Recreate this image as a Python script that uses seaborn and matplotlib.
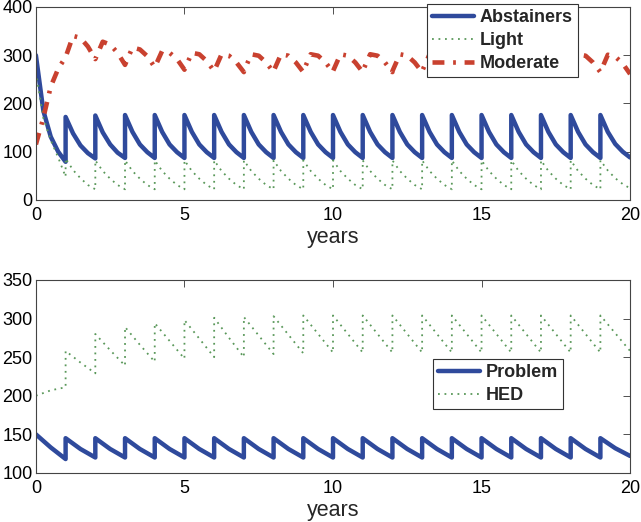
import numpy as np
import pandas as pd
import matplotlib
matplotlib.use("Agg")
import matplotlib.pyplot as plt
import seaborn as sns

# ── Data (one list per yearly cycle) ────────────────────────────────────────
YEARS = 20

# top panel: samples at k, k+.25, k+.5, k+.75, k+1 inside each year k
FRAC5 = [0.0, 0.25, 0.5, 0.75, 1.0]
abstainers = [
    [300, 185, 131, 100, 79],
    [172, 138, 113, 97, 86],
    [175, 140, 115, 98, 87],
] + [[176, 141, 115, 99, 87]] * 16 + [[176, 141, 116, 100, 88]]

light = [
    [265, 170, 124, 88, 48],
    [86, 62, 45, 31, 22],
] + [[82, 60, 44, 31, 22]] * 17 + [[82, 61, 45, 33, 24]]

moderate = [
    [115, 170, 235, 272, 296],
    [296, 340, 336, 318, 292],
    [292, 328, 322, 305, 280],
    [280, 316, 312, 298, 275],
    [275, 309, 305, 292, 270],
    [270, 305, 302, 288, 267],
] + [[267, 302, 299, 285, 265]] * 13 + [[265, 301, 297, 283, 261]]

# bottom panel: samples at k, k+.5, k+1
FRAC3 = [0.0, 0.5, 1.0]
problem = [[150, 133, 118]] + [[145, 131, 120]] * 18 + [[145, 132, 122]]

hed = [
    [200, 207, 211],
    [258, 243, 229],
    [280, 259, 239],
    [289, 266, 244],
    [294, 271, 248],
    [298, 274, 250],
    [301, 275, 250],
    [302, 278, 254],
    [303, 279, 255],
] + [[304, 280, 256]] * 10 + [[304, 281, 258]]

BLUE = "#2f4a9c"
GREEN = "#5a985a"
RED = "#c9412f"
DOTS = (1, 2.6)
DASHDOT = (2.6, 1.9, 0.6, 1.9)


def to_frame(cycles, fracs, name):
    rows = []
    for k, vals in enumerate(cycles):
        for f, v in zip(fracs, vals):
            rows.append((k + f, v, name))
    return pd.DataFrame(rows, columns=["t", "value", "series"])


def style_axes(ax, ylim, yticks):
    ax.set_xlim(0, YEARS)
    ax.set_ylim(*ylim)
    ax.set_xticks([0, 5, 10, 15, 20])
    ax.set_yticks(yticks)
    ax.tick_params(direction="in", top=True, right=True, length=5,
                   width=0.6, labelsize=13, colors="#333333",
                   labelcolor="black")
    ax.tick_params(axis="x", pad=5)
    ax.tick_params(axis="y", pad=2.5)
    for sp in ax.spines.values():
        sp.set_color("#444444")
        sp.set_linewidth(0.8)
    ax.set_xlabel("years", fontsize=15.5, labelpad=2)
    ax.set_ylabel("")


def add_legend(ax, anchor):
    leg = ax.legend(loc="upper right", bbox_to_anchor=anchor,
                    borderaxespad=0, fancybox=False, framealpha=1,
                    edgecolor="#333333", handlelength=2.3, labelspacing=0.32,
                    borderpad=0.3, handletextpad=0.3,
                    prop={"weight": "bold", "size": 13})
    leg.get_frame().set_linewidth(0.8)
    return leg


sns.set_style("white")
plt.rcParams["font.family"] = ["Liberation Sans", "DejaVu Sans"]

fig = plt.figure(figsize=(6.41, 5.22), dpi=100)
ax1 = fig.add_axes([0.056, 0.617, 0.927, 0.3696])
ax2 = fig.add_axes([0.056, 0.094, 0.927, 0.3697])

# ── Top panel ────────────────────────────────────────────────────────────────
sns.lineplot(data=to_frame(abstainers, FRAC5, "Abstainers"), x="t", y="value",
             sort=False, estimator=None, color=BLUE, lw=3.2, ax=ax1,
             label="Abstainers")
sns.lineplot(data=to_frame(light, FRAC5, "Light"), x="t", y="value",
             sort=False, estimator=None, color=GREEN, lw=1.3, dashes=DOTS,
             ax=ax1, label="Light")
sns.lineplot(data=to_frame(moderate, FRAC5, "Moderate"), x="t", y="value",
             sort=False, estimator=None, color=RED, lw=3.3, dashes=DASHDOT,
             ax=ax1, label="Moderate")
style_axes(ax1, (0, 400), [0, 100, 200, 300, 400])
add_legend(ax1, (0.912, 1.016))

# ── Bottom panel ─────────────────────────────────────────────────────────────
sns.lineplot(data=to_frame(problem, FRAC3, "Problem"), x="t", y="value",
             sort=False, estimator=None, color=BLUE, lw=3.2, ax=ax2,
             label="Problem")
sns.lineplot(data=to_frame(hed, FRAC3, "HED"), x="t", y="value",
             sort=False, estimator=None, color=GREEN, lw=1.3, dashes=DOTS,
             ax=ax2, label="HED")
style_axes(ax2, (100, 350), [100, 150, 200, 250, 300, 350])
add_legend(ax2, (0.887, 0.591))

fig.savefig("out.png", dpi=100)
